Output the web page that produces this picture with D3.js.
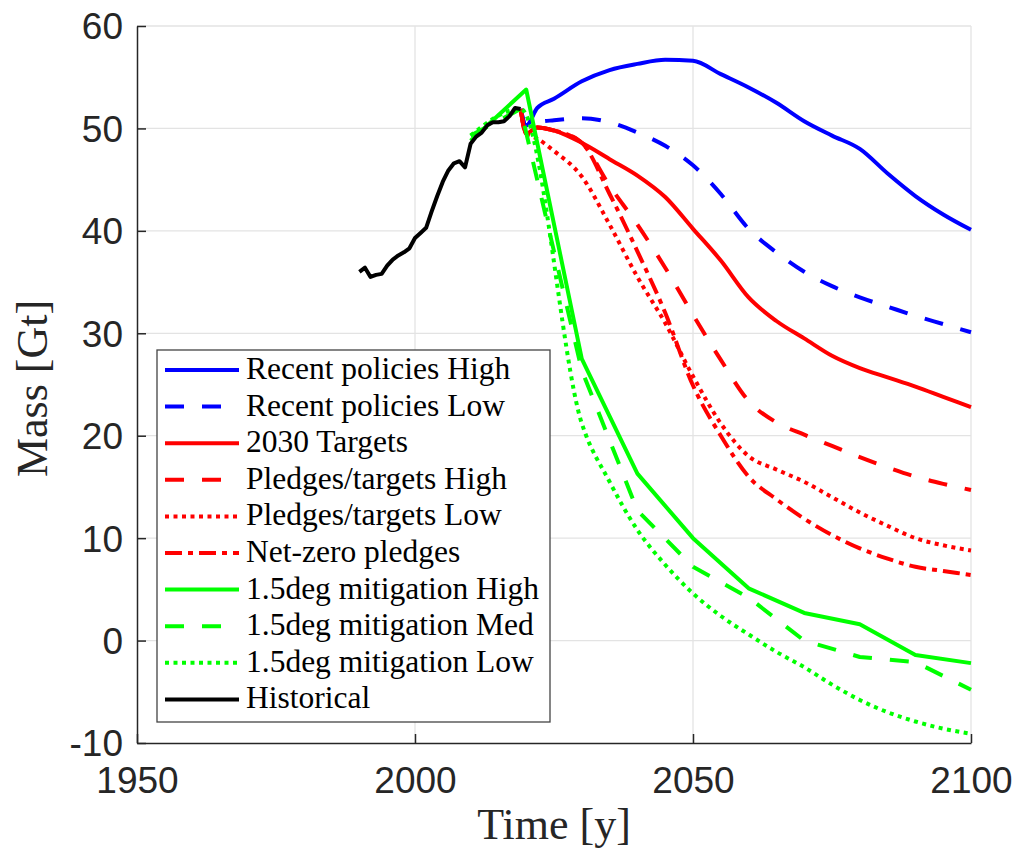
<!DOCTYPE html>
<html>
<head>
<meta charset="utf-8">
<script src="https://cdn.jsdelivr.net/npm/d3@7"></script>
<style>
  body { margin: 0; background: #fff; }
  .tick-label { font-family: "Liberation Sans", Arial, sans-serif; font-size: 37px; fill: #262626; }
  .axis-title { font-family: "Liberation Serif", "Times New Roman", serif; font-size: 44px; fill: #262626; }
  .legend-text { font-family: "Liberation Serif", "Times New Roman", serif; font-size: 31.5px; fill: #000; }
</style>
</head>
<body>
<div id="chart"></div>
<script>
// --- data ---

const histYears = [1990, 1991, 1992, 1993, 1994, 1995, 1996, 1997, 1998, 1999,
                   2000, 2001, 2002, 2003, 2004, 2005, 2006, 2007, 2008, 2009,
                   2010, 2011, 2012, 2013, 2014, 2015, 2016, 2017, 2018, 2019];
const histMass = [36.0, 36.4, 35.5, 35.7, 35.8, 36.6, 37.2, 37.6, 37.9, 38.3,
                  39.3, 39.8, 40.3, 41.9, 43.4, 44.8, 45.9, 46.6, 46.8, 46.2,
                  48.5, 49.2, 49.6, 50.3, 50.6, 50.6, 50.7, 51.2, 52.0, 51.9];

// scenario years shared by the blue and red curves
const scenYears = [2019, 2020, 2022, 2025, 2030, 2035, 2040, 2045, 2050, 2055,
                   2060, 2065, 2070, 2075, 2080, 2085, 2090, 2095, 2100];
const recentHigh   = [51.9, 50.3, 52.0, 52.9, 54.6, 55.7, 56.3, 56.7, 56.6, 55.3,
                      54.0, 52.5, 50.7, 49.3, 48.0, 45.6, 43.4, 41.6, 40.1];
const recentLow    = [51.9, 50.3, 50.6, 50.8, 51.0, 50.6, 49.6, 48.3, 46.4, 43.6,
                      40.2, 37.9, 36.0, 34.6, 33.5, 32.6, 31.7, 30.9, 30.1];
const targets2030  = [51.9, 49.5, 50.1, 49.8, 48.6, 47.0, 45.4, 43.3, 40.2, 37.1,
                      33.5, 31.2, 29.5, 27.8, 26.6, 25.7, 24.8, 23.8, 22.8];
const pledgesHigh  = [51.9, 49.5, 50.1, 49.8, 48.6, 44.4, 40.6, 36.4, 31.8, 27.4,
                      23.4, 21.3, 20.1, 19.0, 17.9, 16.9, 16.0, 15.3, 14.7];
const pledgesLow   = [51.9, 49.5, 49.0, 47.8, 45.3, 40.6, 35.5, 31.0, 25.8, 21.2,
                      18.0, 16.7, 15.5, 14.0, 12.5, 11.2, 10.0, 9.3, 8.8];
const netZero      = [51.9, 49.5, 50.1, 49.8, 48.6, 43.6, 38.0, 32.0, 24.9, 20.0,
                      16.0, 13.8, 11.9, 10.3, 9.0, 8.0, 7.2, 6.8, 6.4];

// 1.5 degree pathways
const mitHighYears = [2010, 2020, 2030, 2040, 2050, 2060, 2070, 2080, 2090, 2100];
const mitHigh      = [48.8, 53.8, 27.5, 16.3, 10.0, 5.1, 2.7, 1.6, -1.4, -2.2];
const mitMedYears  = [2010, 2019, 2030, 2040, 2050, 2060, 2070, 2080, 2090, 2100];
const mitMed       = [49.3, 51.9, 26.4, 12.7, 7.2, 4.2, 0.0, -1.6, -2.1, -4.8];
const mitLowYears  = [2010, 2019, 2030, 2035, 2040, 2045, 2050, 2055, 2060, 2065,
                      2070, 2075, 2080, 2085, 2090, 2095, 2100];
const mitLow       = [49.3, 51.9, 21.2, 15.5, 10.8, 7.4, 4.6, 2.4, 0.6, -1.1,
                      -2.6, -4.3, -5.8, -7.0, -7.9, -8.6, -9.1];

const seriesNames = ["Recent policies High", "Recent policies Low", "2030 Targets",
                     "Pledges/targets High", "Pledges/targets Low", "Net-zero pledges",
                     "1.5deg mitigation High", "1.5deg mitigation Med", "1.5deg mitigation Low",
                     "Historical"];

const xTicks = [1950, 2000, 2050, 2100];
const yTicks = [-10, 0, 10, 20, 30, 40, 50, 60];

// --- styling ---

const dashes = {
  solid: null,
  dashed: "19,18",
  dotted: "4,4.5",
  dashdot: "17,6,5,6"
};

const smooth = d3.curveMonotoneX;
const straight = d3.curveLinear;

const series = [
  { years: scenYears,    values: recentHigh,  color: "#0000ff", dash: dashes.solid,   curve: smooth },
  { years: scenYears,    values: recentLow,   color: "#0000ff", dash: dashes.dashed,  curve: smooth },
  { years: scenYears,    values: targets2030, color: "#ff0000", dash: dashes.solid,   curve: smooth },
  { years: scenYears,    values: pledgesHigh, color: "#ff0000", dash: dashes.dashed,  curve: smooth },
  { years: scenYears,    values: pledgesLow,  color: "#ff0000", dash: dashes.dotted,  curve: smooth },
  { years: scenYears,    values: netZero,     color: "#ff0000", dash: dashes.dashdot, curve: smooth },
  { years: mitHighYears, values: mitHigh,     color: "#00ff00", dash: dashes.solid,   curve: straight },
  { years: mitMedYears,  values: mitMed,      color: "#00ff00", dash: dashes.dashed,  curve: straight },
  { years: mitLowYears,  values: mitLow,      color: "#00ff00", dash: dashes.dotted,  curve: smooth },
  { years: histYears,    values: histMass,    color: "#000000", dash: dashes.solid,   curve: straight }
].map((s, i) => ({ ...s, name: seriesNames[i] }));

const width = 1019;
const height = 853;
const plot = { left: 137, right: 971, top: 26, bottom: 743 };
const axisColor = "#262626";
const gridColor = "#e3e3e3";

const x = d3.scaleLinear().domain([1950, 2100]).range([plot.left, plot.right]);
const y = d3.scaleLinear().domain([-10, 60]).range([plot.bottom, plot.top]);

const svg = d3.select("#chart").append("svg")
  .attr("width", width)
  .attr("height", height);

// grid
svg.append("g").selectAll("line.gx")
  .data(xTicks.filter(t => t > 1950))
  .enter().append("line")
  .attr("x1", d => x(d)).attr("x2", d => x(d))
  .attr("y1", plot.top).attr("y2", plot.bottom)
  .attr("stroke", gridColor).attr("stroke-width", 1.3);

svg.append("g").selectAll("line.gy")
  .data(yTicks.filter(t => t > -10))
  .enter().append("line")
  .attr("x1", plot.left).attr("x2", plot.right)
  .attr("y1", d => y(d)).attr("y2", d => y(d))
  .attr("stroke", gridColor).attr("stroke-width", 1.3);

// data lines
svg.append("g").selectAll("path")
  .data(series)
  .enter().append("path")
  .attr("d", s => d3.line()
      .x(d => x(d[0]))
      .y(d => y(d[1]))
      .curve(s.curve)(s.years.map((yr, i) => [yr, s.values[i]])))
  .attr("fill", "none")
  .attr("stroke", s => s.color)
  .attr("stroke-width", 4)
  .attr("stroke-linejoin", "round")
  .attr("stroke-dasharray", s => s.dash);

// axes (MATLAB style: ticks inside, box off)
const xAxis = d3.axisBottom(x).tickValues(xTicks).tickSizeInner(-9).tickSizeOuter(0).tickFormat(d => String(d));
const yAxis = d3.axisLeft(y).tickValues(yTicks).tickSizeInner(-9).tickSizeOuter(0).tickFormat(d => String(d));

const gx = svg.append("g").attr("transform", `translate(0,${plot.bottom})`).call(xAxis);
const gy = svg.append("g").attr("transform", `translate(${plot.left},0)`).call(yAxis);

[gx, gy].forEach(g => {
  g.select(".domain").attr("stroke", axisColor).attr("stroke-width", 1.5);
  g.selectAll(".tick line").attr("stroke", axisColor).attr("stroke-width", 1.5);
  g.selectAll(".tick text").attr("class", "tick-label").attr("fill", axisColor);
});
gx.selectAll(".tick text").attr("y", 50).attr("dy", 0);
gy.selectAll(".tick text").attr("x", -14).attr("dy", "0.35em");

// axis titles
svg.append("text")
  .attr("class", "axis-title")
  .attr("x", (plot.left + plot.right) / 2)
  .attr("y", 839)
  .attr("text-anchor", "middle")
  .text("Time [y]");

svg.append("text")
  .attr("class", "axis-title")
  .attr("transform", `translate(47,${(plot.top + plot.bottom) / 2 + 4}) rotate(-90)`)
  .attr("text-anchor", "middle")
  .text("Mass [Gt]");

// legend
const legend = svg.append("g").attr("transform", "translate(157,350)");
legend.append("rect")
  .attr("width", 393).attr("height", 372)
  .attr("fill", "#fff")
  .attr("stroke", "#444").attr("stroke-width", 1.3);

const rowH = 36.6;
const items = legend.selectAll("g.item")
  .data(series)
  .enter().append("g")
  .attr("transform", (d, i) => `translate(0,${20 + i * rowH})`);

items.append("line")
  .attr("x1", 8).attr("x2", 82)
  .attr("stroke", d => d.color)
  .attr("stroke-width", 4)
  .attr("stroke-dasharray", d => d.dash);

items.append("text")
  .attr("class", "legend-text")
  .attr("x", 89)
  .attr("y", 9)
  .text(d => d.name);
</script>
</body>
</html>
